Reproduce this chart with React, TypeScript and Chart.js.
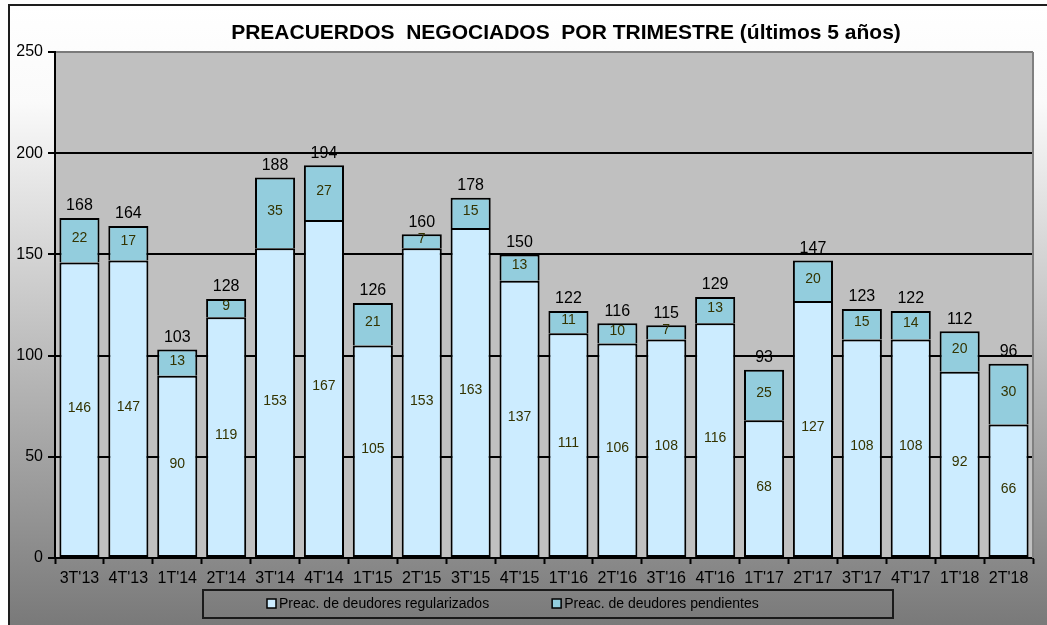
import React, { useEffect, useRef } from 'react';
import { Chart, registerables } from 'chart.js';

Chart.register(...registerables);

const categories = ["3T'13", "4T'13", "1T'14", "2T'14", "3T'14", "4T'14", "1T'15", "2T'15", "3T'15", "4T'15", "1T'16", "2T'16", "3T'16", "4T'16", "1T'17", "2T'17", "3T'17", "4T'17", "1T'18", "2T'18"];
const regularizados = [146, 147, 90, 119, 153, 167, 105, 153, 163, 137, 111, 106, 108, 116, 68, 127, 108, 108, 92, 66];
const pendientes = [22, 17, 13, 9, 35, 27, 21, 7, 15, 13, 11, 10, 7, 13, 25, 20, 15, 14, 20, 30];
const yTicks = [0, 50, 100, 150, 200, 250];
const seriesLabels = ['Preac. de deudores regularizados', 'Preac. de deudores pendientes'];
const titleText = 'PREACUERDOS  NEGOCIADOS  POR TRIMESTRE (últimos 5 años)';

const FONT = 'Arial, "Liberation Sans", sans-serif';
const LIGHT = '#CCECFF';
const DARK = '#93CDDD';

const plotBgPlugin = {
  id: 'plotBg',
  beforeDraw(chart: any) {
    const { ctx, chartArea } = chart;
    const { left, top, right, bottom } = chartArea;
    ctx.save();
    ctx.fillStyle = '#c0c0c0';
    ctx.fillRect(left, top, right - left, bottom - top);
    ctx.restore();
  },
  beforeDatasetsDraw(chart: any) {
    const { ctx, chartArea } = chart;
    ctx.save();
    ctx.strokeStyle = '#808080';
    ctx.lineWidth = 2;
    ctx.beginPath();
    ctx.moveTo(chartArea.right, chartArea.top);
    ctx.lineTo(chartArea.right, chartArea.bottom);
    ctx.stroke();
    ctx.restore();
  },
};

const labelsPlugin = {
  id: 'valueLabels',
  afterDatasetsDraw(chart: any) {
    const { ctx } = chart;
    ctx.save();
    ctx.textAlign = 'center';
    ctx.textBaseline = 'middle';
    ctx.font = `14px ${FONT}`;
    ctx.fillStyle = '#333300';
    chart.data.datasets.forEach((ds: any, di: number) => {
      const meta = chart.getDatasetMeta(di);
      meta.data.forEach((bar: any, i: number) => {
        const { x, y, base } = bar.getProps(['x', 'y', 'base'], true);
        ctx.fillText(String(ds.data[i]), x, (y + base) / 2 - 2);
      });
    });
    const last = chart.data.datasets.length - 1;
    const topMeta = chart.getDatasetMeta(last);
    ctx.font = `16px ${FONT}`;
    ctx.fillStyle = '#000';
    topMeta.data.forEach((bar: any, i: number) => {
      const { x, y } = bar.getProps(['x', 'y'], true);
      const total = regularizados[i] + pendientes[i];
      ctx.fillText(String(total), x, y - 12);
    });
    ctx.restore();
  },
};

const titleLegendPlugin = {
  id: 'titleLegend',
  afterDraw(chart: any) {
    const { ctx } = chart;
    ctx.save();
    ctx.font = `bold 21px ${FONT}`;
    ctx.fillStyle = '#000';
    ctx.textAlign = 'center';
    ctx.textBaseline = 'middle';
    ctx.fillText(titleText, 566, 33);

    const boxL = 203, boxT = 590, boxR = 893, boxB = 618;
    ctx.strokeStyle = '#1a1a1a';
    ctx.lineWidth = 2;
    ctx.strokeRect(boxL, boxT, boxR - boxL, boxB - boxT);
    ctx.font = `14px ${FONT}`;
    ctx.textAlign = 'left';
    let x = 267;
    const cy = 604;
    chart.data.datasets.forEach((ds: any) => {
      ctx.fillStyle = ds.backgroundColor;
      ctx.fillRect(x, cy - 5, 9, 9);
      ctx.strokeStyle = '#000';
      ctx.lineWidth = 1.5;
      ctx.strokeRect(x, cy - 5, 9, 9);
      ctx.fillStyle = '#000';
      ctx.fillText(ds.label, x + 12, cy);
      x += 12 + ctx.measureText(ds.label).width + 63;
    });
    ctx.restore();
  },
};

export default function App() {
  const canvasRef = useRef<HTMLCanvasElement | null>(null);

  useEffect(() => {
    if (!canvasRef.current) return;
    const chart = new Chart(canvasRef.current, {
      type: 'bar',
      data: {
        labels: categories,
        datasets: [
          {
            label: seriesLabels[0],
            data: regularizados,
            backgroundColor: LIGHT,
            borderColor: '#000',
            borderWidth: { left: 2, right: 2, top: 2, bottom: 2 },
            borderSkipped: false,
            categoryPercentage: 1,
            barPercentage: 0.82,
          },
          {
            label: seriesLabels[1],
            data: pendientes,
            backgroundColor: DARK,
            borderColor: '#000',
            borderWidth: { left: 2, right: 2, top: 2, bottom: 0 },
            borderSkipped: false,
            categoryPercentage: 1,
            barPercentage: 0.82,
          },
        ],
      },
      options: {
        responsive: false,
        animation: false,
        devicePixelRatio: 1,
        layout: { padding: { left: 0, top: 52, right: 14, bottom: 0 } },
        plugins: {
          legend: { display: false },
          title: { display: false },
          tooltip: { enabled: false },
        },
        scales: {
          x: {
            stacked: true,
            grid: {
              drawOnChartArea: false,
              drawTicks: true,
              tickLength: 6,
              tickColor: '#000',
              tickWidth: 2,
            },
            border: { display: true, color: '#000', width: 2 },
            ticks: {
              color: '#000',
              font: { family: FONT, size: 16 },
              padding: 5,
              maxRotation: 0,
              autoSkip: false,
            },
            afterFit(scale: any) {
              scale.height = 67;
            },
          },
          y: {
            stacked: true,
            min: 0,
            max: 250,
            afterBuildTicks(scale: any) {
              scale.ticks = yTicks.map((v) => ({ value: v }));
            },
            grid: {
              color: (ctx: any) => (ctx.tick && ctx.tick.value === 250 ? '#7a7a7a' : '#000'),
              lineWidth: 2,
              tickLength: 7,
              tickColor: '#000',
              tickWidth: 2,
            },
            border: { display: true, color: '#000', width: 2 },
            ticks: {
              color: '#000',
              font: { family: FONT, size: 16 },
              padding: 5,
            },
            afterFit(scale: any) {
              scale.width = 55;
            },
          },
        },
      },
      plugins: [plotBgPlugin, labelsPlugin, titleLegendPlugin],
    } as any);
    return () => chart.destroy();
  }, []);

  return (
    <div style={{ position: 'absolute', left: 0, top: 0, width: 1047, height: 625, overflow: 'hidden', background: '#fff' }}>
      <div
        style={{
          position: 'absolute',
          left: 8,
          top: 4,
          width: 1060,
          height: 700,
          borderLeft: '2px solid #1e1e1e',
          borderTop: '2px solid #1e1e1e',
          background: 'linear-gradient(to bottom, #ffffff 0px, #fafafa 96px, #7a7a7a 616px, #777777 700px)',
        }}
      />
      <canvas ref={canvasRef} width={1047} height={625} style={{ position: 'absolute', left: 0, top: 0 }} />
    </div>
  );
}
